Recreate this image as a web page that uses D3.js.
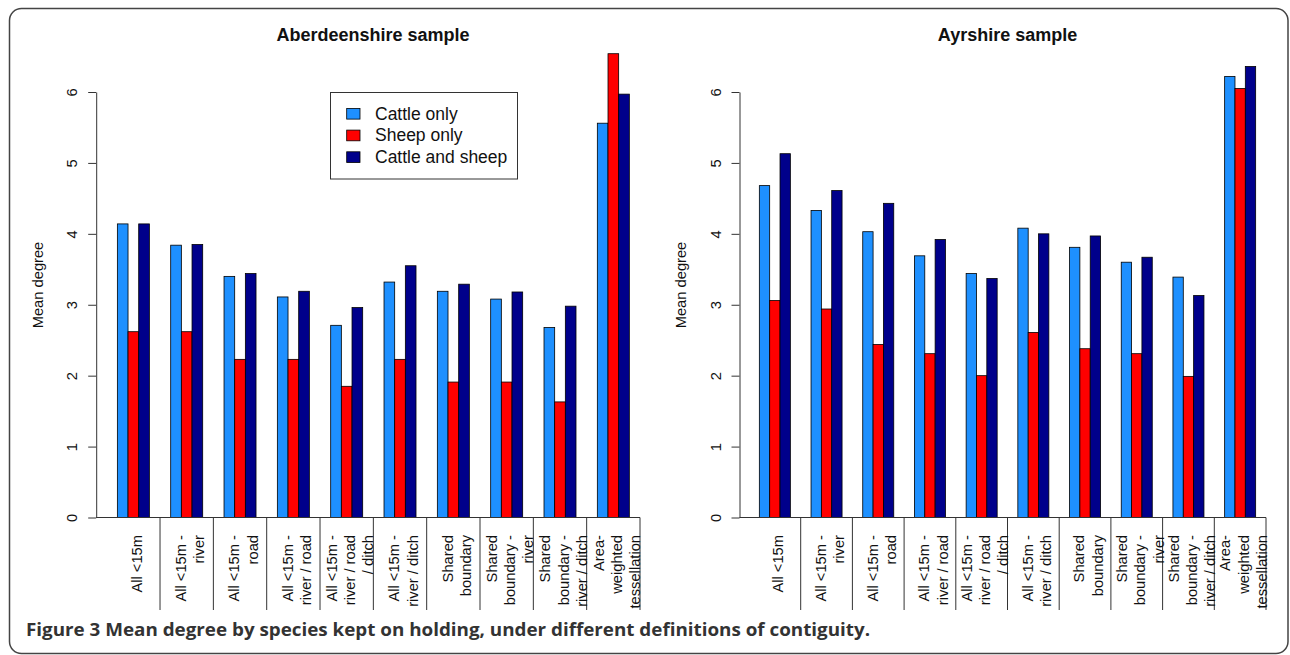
<!DOCTYPE html>
<html>
<head>
<meta charset="utf-8">
<script src="https://cdn.jsdelivr.net/npm/d3@7"></script>
<style>
  body { margin: 0; background: #fff; }
  svg text { font-family: "Liberation Sans", Arial, sans-serif; }
</style>
</head>
<body>
<svg id="fig" width="1290" height="655"></svg>
<script>
// categories (x labels, line breaks as in the figure)
var categories = [
  "All <15m",
  "All <15m -\nriver",
  "All <15m -\nroad",
  "All <15m -\nriver / road",
  "All <15m -\nriver / road\n/ ditch",
  "All <15m -\nriver / ditch",
  "Shared\nboundary",
  "Shared\nboundary -\nriver",
  "Shared\nboundary -\nriver / ditch",
  "Area-\nweighted\ntessellation"
];
var seriesNames = ["Cattle only", "Sheep only", "Cattle and sheep"];
var seriesColors = ["#1e90ff", "#ff0000", "#00008b"];
var yTicks = [0, 1, 2, 3, 4, 5, 6];

// Aberdeenshire sample
var aberCattle = [4.14, 3.84, 3.40, 3.11, 2.71, 3.32, 3.19, 3.08, 2.68, 5.56];
var aberSheep  = [2.62, 2.62, 2.23, 2.23, 1.85, 2.23, 1.91, 1.91, 1.63, 6.54];
var aberBoth   = [4.14, 3.85, 3.44, 3.19, 2.96, 3.55, 3.29, 3.18, 2.98, 5.97];

// Ayrshire sample
var ayrCattle = [4.68, 4.33, 4.03, 3.69, 3.44, 4.08, 3.81, 3.60, 3.39, 6.22];
var ayrSheep  = [3.06, 2.94, 2.44, 2.31, 2.00, 2.61, 2.38, 2.31, 1.99, 6.05];
var ayrBoth   = [5.13, 4.61, 4.43, 3.92, 3.37, 4.00, 3.97, 3.67, 3.13, 6.36];

var svg = d3.select("#fig");

// frame round the figure
svg.append("rect")
  .attr("x", 9.5).attr("y", 8.5)
  .attr("width", 1278.5).attr("height", 645)
  .attr("rx", 12).attr("ry", 12)
  .attr("fill", "none").attr("stroke", "#444").attr("stroke-width", 1.5);

var y = d3.scaleLinear().domain([0, 6]).range([517.5, 92]);

function drawPanel(title, vals, axisX, cellLeft, cellRight, legend) {
  var g = svg.append("g");
  var x = d3.scaleBand().domain(categories).range([cellLeft, cellRight])
    .paddingInner(0).paddingOuter(0);
  var xs = d3.scaleBand().domain(seriesNames).range([0, x.bandwidth()])
    .paddingInner(0).paddingOuter(1);

  var rows = categories.map(function(c, i) {
    return seriesNames.map(function(s, j) { return {cat: c, ser: s, v: vals[j][i], k: j}; });
  });

  g.selectAll("g.grp").data(rows).enter().append("g")
    .selectAll("rect").data(function(d) { return d; }).enter().append("rect")
    .attr("x", function(d) { return x(d.cat) + xs(d.ser); })
    .attr("y", function(d) { return y(d.v); })
    .attr("width", xs.bandwidth())
    .attr("height", function(d) { return y(0) - y(d.v); })
    .attr("fill", function(d) { return seriesColors[d.k]; })
    .attr("stroke", "#000").attr("stroke-width", 0.8);

  // y axis
  var ax = g.append("g").attr("transform", "translate(" + axisX + ",0)")
    .call(d3.axisLeft(y).tickValues(yTicks).tickFormat(d3.format("d"))
      .tickSize(8).tickSizeOuter(0));
  ax.select(".domain").attr("stroke", "#333");
  ax.selectAll(".tick line").attr("stroke", "#333");
  ax.selectAll(".tick text")
    .attr("x", null).attr("dy", null)
    .attr("transform", "translate(-24,0) rotate(-90)")
    .attr("text-anchor", "middle").attr("dominant-baseline", "central")
    .attr("font-size", 14.7).attr("fill", "#111")
    .attr("font-family", "Liberation Sans, Arial, sans-serif");

  g.append("text")
    .attr("transform", "translate(" + (axisX - 58.5) + ",285) rotate(-90)")
    .attr("text-anchor", "middle").attr("dominant-baseline", "central")
    .attr("font-size", 14.7).attr("fill", "#111")
    .text("Mean degree");

  // baseline + category separators
  g.append("line")
    .attr("x1", axisX).attr("x2", cellRight)
    .attr("y1", y(0)).attr("y2", y(0))
    .attr("stroke", "#333").attr("stroke-width", 1);
  g.selectAll("line.sep").data(categories).enter().append("line")
    .attr("class", "sep")
    .attr("x1", function(c) { return x(c) + x.bandwidth(); })
    .attr("x2", function(c) { return x(c) + x.bandwidth(); })
    .attr("y1", y(0)).attr("y2", 610)
    .attr("stroke", "#333").attr("stroke-width", 1);

  // rotated category labels, each line right-aligned to the top
  var lh = 18.3;
  categories.forEach(function(c) {
    var lines = c.split("\n");
    var cx = x(c) + x.bandwidth() / 2 + 3.5;
    lines.forEach(function(ln, k) {
      var lx = cx + (k - (lines.length - 1) / 2) * lh;
      g.append("text")
        .attr("transform", "translate(" + lx + ",535) rotate(-90)")
        .attr("text-anchor", "end").attr("dominant-baseline", "central")
        .attr("font-size", 14.7).attr("fill", "#111")
        .text(ln);
    });
  });

  var mid = (axisX + cellRight + 0.92 * x.bandwidth() / 5) / 2;
  g.append("text")
    .attr("x", mid).attr("y", 40.5)
    .attr("text-anchor", "middle")
    .attr("font-size", 18).attr("font-weight", "bold").attr("fill", "#111")
    .text(title);

  if (legend) {
    var lg = g.append("g");
    lg.append("rect")
      .attr("x", 330.5).attr("y", 92.5).attr("width", 187).attr("height", 86.5)
      .attr("fill", "#fff").attr("stroke", "#333").attr("stroke-width", 1);
    seriesNames.forEach(function(s, j) {
      var cy = 113.7 + j * 21.7;
      lg.append("rect")
        .attr("x", 346.7).attr("y", cy - 5.3).attr("width", 13.3).attr("height", 10.7)
        .attr("fill", seriesColors[j]).attr("stroke", "#000").attr("stroke-width", 0.8);
      lg.append("text")
        .attr("x", 375).attr("y", cy)
        .attr("dominant-baseline", "central")
        .attr("font-size", 17.5).attr("fill", "#111")
        .text(s);
    });
  }
}

drawPanel("Aberdeenshire sample", [aberCattle, aberSheep, aberBoth], 96.2, 106.7, 640, true);
drawPanel("Ayrshire sample", [ayrCattle, ayrSheep, ayrBoth], 739.5, 749, 1266, false);

// caption
svg.append("text")
  .attr("x", 26).attr("y", 635.5)
  .attr("font-size", 18).attr("font-weight", "bold").attr("fill", "#333")
  .attr("textLength", 844).attr("lengthAdjust", "spacingAndGlyphs")
  .style("font-family", "'Open Sans', 'Noto Sans', sans-serif")
  .text("Figure 3 Mean degree by species kept on holding, under different definitions of contiguity.");
</script>
</body>
</html>
